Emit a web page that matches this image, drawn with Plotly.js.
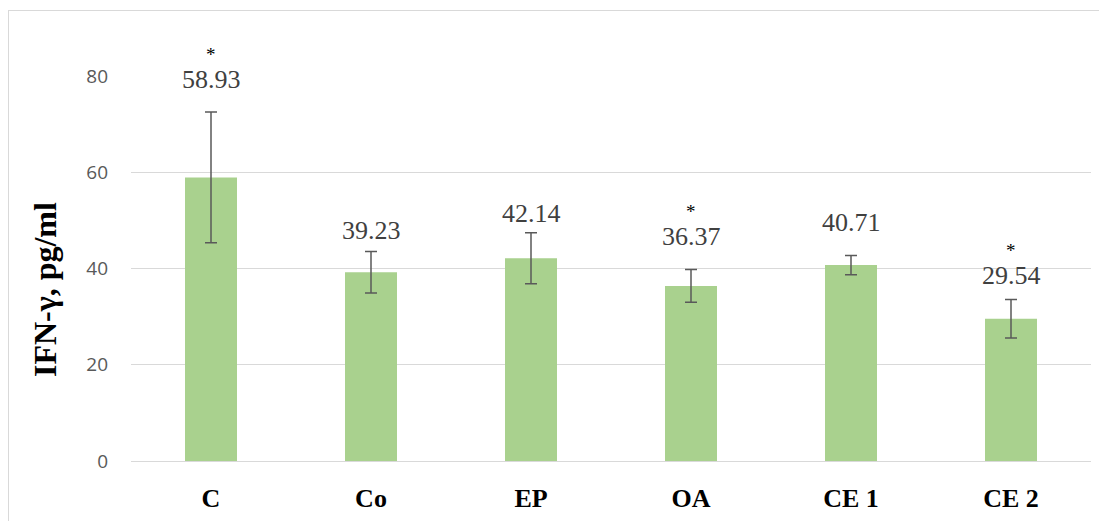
<!DOCTYPE html>
<html><head><meta charset="utf-8">
<script src="https://cdn.plot.ly/plotly-3.0.1.min.js"></script>
<style>
html,body{margin:0;padding:0;background:#fff;}
#frame{position:absolute;left:8px;top:10px;width:1100px;height:520px;border:1px solid #d9d9d9;box-sizing:border-box;}
#chart{position:absolute;left:0;top:0;width:1099px;height:521px;}
</style></head>
<body><div id="frame"></div><div id="chart"></div>
<script>
const categories = ["C", "Co", "EP", "OA", "CE 1", "CE 2"];
const values = [58.93, 39.23, 42.14, 36.37, 40.71, 29.54];
const errors = [13.6, 4.3, 5.3, 3.4, 2.0, 4.0];
const significant = [true, false, false, true, false, true];
const yTicks = [0, 20, 40, 60, 80];
const yTitle = 'IFN-γ, pg/ml';

const labelLift = [32, 21, 19, 33, 33, 24];

const trace = {
  type: 'bar', x: categories, y: values,
  marker: {color: '#a9d18e'},
  error_y: {type: 'data', array: errors, visible: true, color: '#595959', thickness: 1.5, width: 6},
  hoverinfo: 'none'
};

const annotations = [];
categories.forEach((c, i) => {
  annotations.push({x: c, y: values[i] + errors[i], xref: 'x', yref: 'y', text: values[i].toFixed(2),
    showarrow: false, yanchor: 'middle', yshift: labelLift[i],
    font: {family: 'Liberation Serif, Times New Roman, serif', size: 26, color: '#404040'}});
  if (significant[i]) {
    annotations.push({x: c, y: values[i] + errors[i], xref: 'x', yref: 'y', text: '*',
      showarrow: false, yanchor: 'middle', yshift: labelLift[i] + 25,
      font: {family: 'Liberation Serif, Times New Roman, serif', size: 19, color: '#000'}});
  }
});
annotations.push({xref: 'paper', yref: 'paper', x: 0, y: 0.444, xshift: -86, text: '<b>' + yTitle + '</b>',
  textangle: -90, showarrow: false, xanchor: 'center', yanchor: 'middle',
  font: {family: 'Liberation Serif, Times New Roman, serif', size: 32, color: '#000'}});

const layout = {
  width: 1099, height: 521,
  margin: {l: 131, r: 8, t: 76, b: 60},
  paper_bgcolor: 'rgba(0,0,0,0)', plot_bgcolor: 'rgba(0,0,0,0)',
  showlegend: false, bargap: 0.675,
  xaxis: {type: 'category', showgrid: false, showline: true, linecolor: '#d9d9d9', linewidth: 1,
    ticks: '', ticklabelstandoff: 14,
    tickfont: {family: 'Liberation Serif, Times New Roman, serif', size: 26, color: '#000', weight: 'bold'}},
  yaxis: {range: [0, 80], tickvals: yTicks, ticktext: yTicks.map(String), showgrid: true, gridcolor: '#d9d9d9', gridwidth: 1,
    zeroline: false, showline: false, ticks: '', ticklabelstandoff: 22,
    tickfont: {family: 'Open Sans, sans-serif', size: 19, color: '#595959'}},
  annotations: annotations
};

Plotly.newPlot('chart', [trace], layout, {displayModeBar: false, staticPlot: true});
</script></body></html>
